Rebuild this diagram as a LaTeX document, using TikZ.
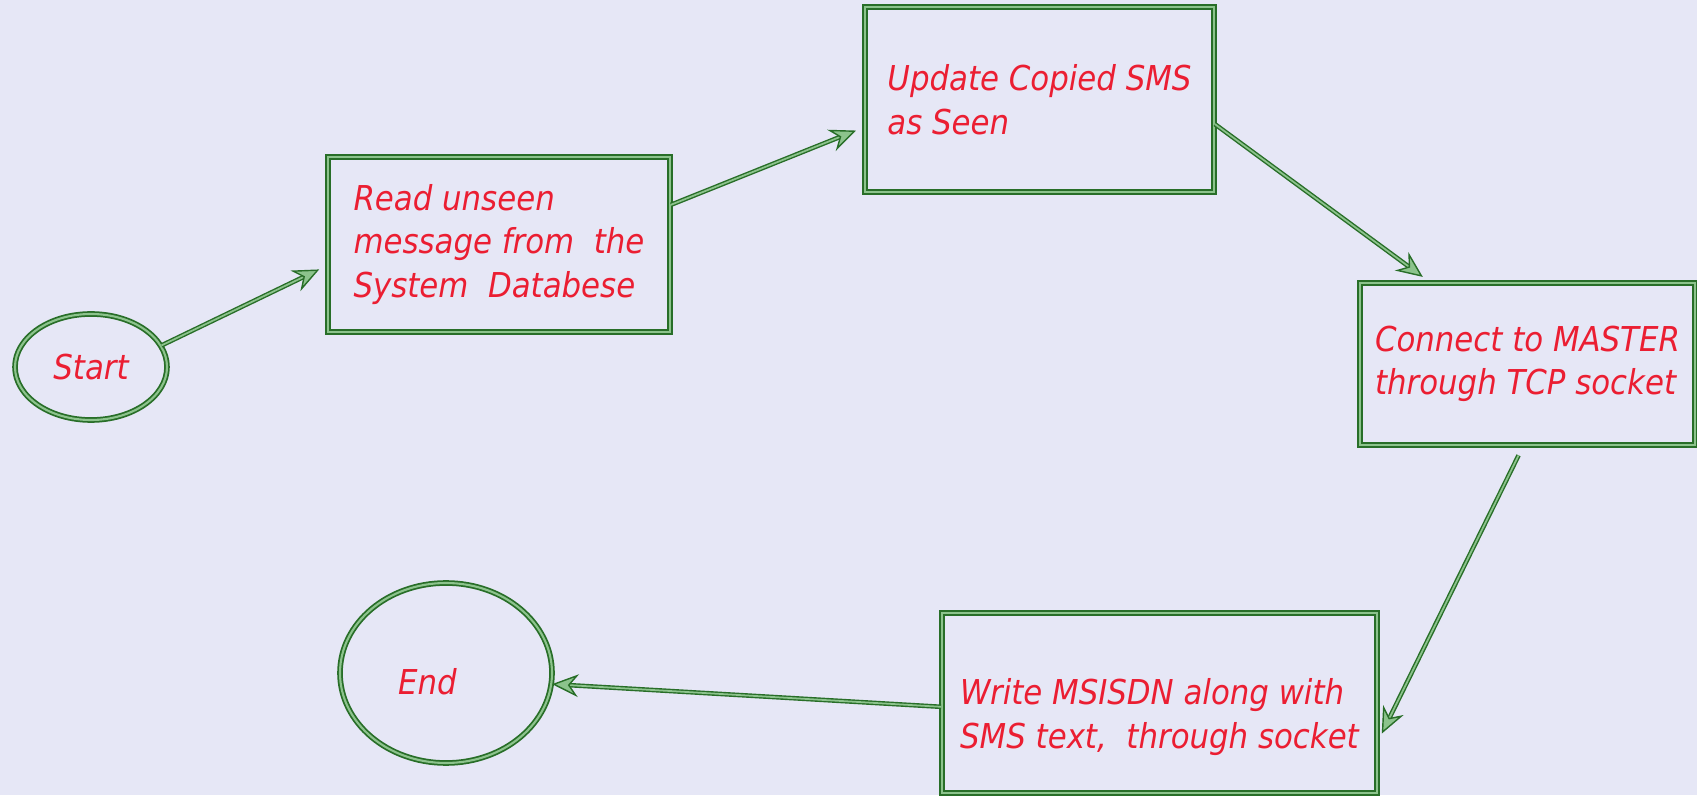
\documentclass[tikz,border=0pt]{standalone}
\usepackage{fontspec}
\setmainfont{DejaVu Sans Condensed}
\usetikzlibrary{arrows.meta,shapes.geometric}
\definecolor{fgreen}{RGB}{40,110,40}
\definecolor{fgreen0}{RGB}{140,195,140}
\definecolor{fred}{RGB}{235,30,50}
\definecolor{bglav}{RGB}{230,231,246}
\newcommand{\flowfont}{\fontsize{19.5}{24.75}\selectfont}
\tikzset{
  flow/.style={draw=fgreen,double=fgreen0,line width=1pt,double distance=1.2pt},
  lbl/.style={text=fred,font=\itshape\flowfont},
  boxst/.style={flow,rectangle,inner sep=0pt,align=left,lbl},
  ovst/.style={flow,ellipse,inner sep=0pt,lbl},
  conn/.style={flow,line width=0.8pt,double distance=1pt,
    -{Stealth[length=15pt,width=13pt,inset=5pt,fill=fgreen0]},shorten >=5pt}
}
\newcommand{\stepbox}[5]{\node[boxst,minimum width=#3,minimum height=#4] (#1) at (#2) {#5};}
\newcommand{\ovbox}[5]{\node[ovst,minimum width=#3,minimum height=#4] (#1) at (#2) {#5};}

\begin{document}
\begin{tikzpicture}
    \fill[bglav] (0,0) rectangle (33.94,15.9);
    \useasboundingbox (0,0) rectangle (33.94,15.9);
    \ovbox{st}{1.82,8.56}{3.04cm}{2.12cm}{Start};
    \stepbox{b1}{9.98,11.01}{6.84cm}{3.5cm}{Read unseen\\message from\ \ the\\System\ \ Databese};
    \stepbox{b2}{20.79,13.91}{6.98cm}{3.7cm}{Update Copied SMS\\as Seen};
    \stepbox{b3}{30.55,8.62}{6.7cm}{3.24cm}{Connect to MASTER\\through TCP socket};
    \stepbox{b4}{23.19,1.84}{8.7cm}{3.6cm}{\rule{0pt}{1.08cm}Write MSISDN along with\\SMS text,\ \ through socket};
    \node[ovst,minimum width=4.24cm,minimum height=3.6cm,
      label={[lbl,xshift=-0.37cm,yshift=-0.17cm]center:End}] (en) at (8.92,2.44) {};

    \draw[conn] (st.17) -- (b1.187);
    \draw[conn] (b1.13) -- (b2.189);
    \draw[conn] (b2.-8) -- (b3.140);
    \draw[conn,shorten <=6pt] (b3.-93) -- (b4.-10);
    \draw[conn,shorten >=0pt] (b4.181) -- (en.-6);
\end{tikzpicture}
\end{document}
